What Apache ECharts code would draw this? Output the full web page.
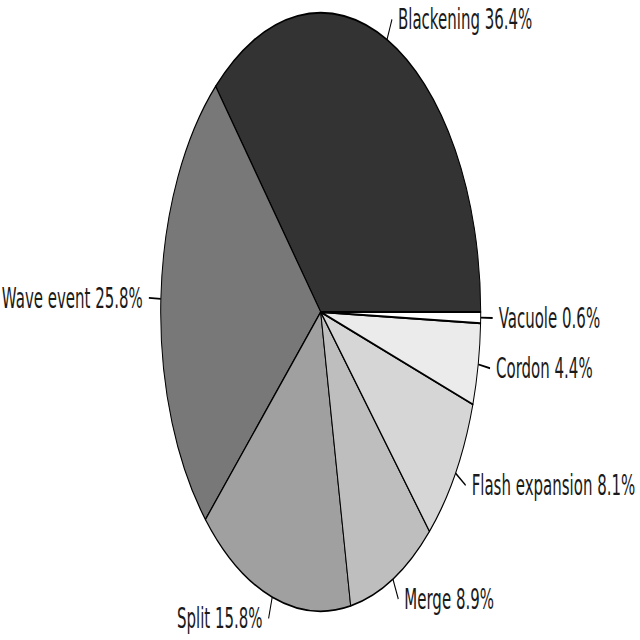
<!DOCTYPE html>
<html>
<head>
<meta charset="utf-8">
<script src="https://cdn.jsdelivr.net/npm/echarts@6/dist/echarts.min.js"></script>
<style>
html, body { margin: 0; padding: 0; background: #fff; overflow: hidden; width: 640px; height: 640px; }
#c { width: 640px; height: 342.25px; transform: scale(1, 1.87); transform-origin: 0 0; }
</style>
</head>
<body>
<div id="c"></div>
<script>
const categories = ['Blackening', 'Wave event', 'Split', 'Merge', 'Flash expansion', 'Cordon', 'Vacuole'];
const values = [36.4, 25.8, 15.8, 8.9, 8.1, 4.4, 0.6];
const colors = ['#333333', '#787878', '#a0a0a0', '#bebebe', '#d6d6d6', '#ebebeb', '#ffffff'];

const chart = echarts.init(document.getElementById('c'), null, { renderer: 'svg' });
chart.setOption({
  animation: false,
  backgroundColor: '#ffffff',
  series: [{
    type: 'pie',
    center: [320.7, 166.84],
    radius: 160,
    startAngle: 0,
    clockwise: false,
    avoidLabelOverlap: false,
    silent: true,
    data: categories.map((name, i) => ({
      name: name,
      value: values[i],
      itemStyle: { color: colors[i] }
    })),
    itemStyle: { borderColor: '#000', borderWidth: 1 },
    label: {
      show: true,
      position: 'outside',
      formatter: p => p.name + ' ' + p.value + '%',
      fontFamily: 'DejaVu Sans',
      fontSize: 15,
      color: '#1a1a1a',
      distanceToLabelLine: 6
    },
    labelLine: {
      show: true,
      length: 12,
      length2: 0,
      smooth: false,
      lineStyle: { color: '#000', width: 1 }
    },
    emphasis: { disabled: true }
  }]
});
</script>
</body>
</html>
